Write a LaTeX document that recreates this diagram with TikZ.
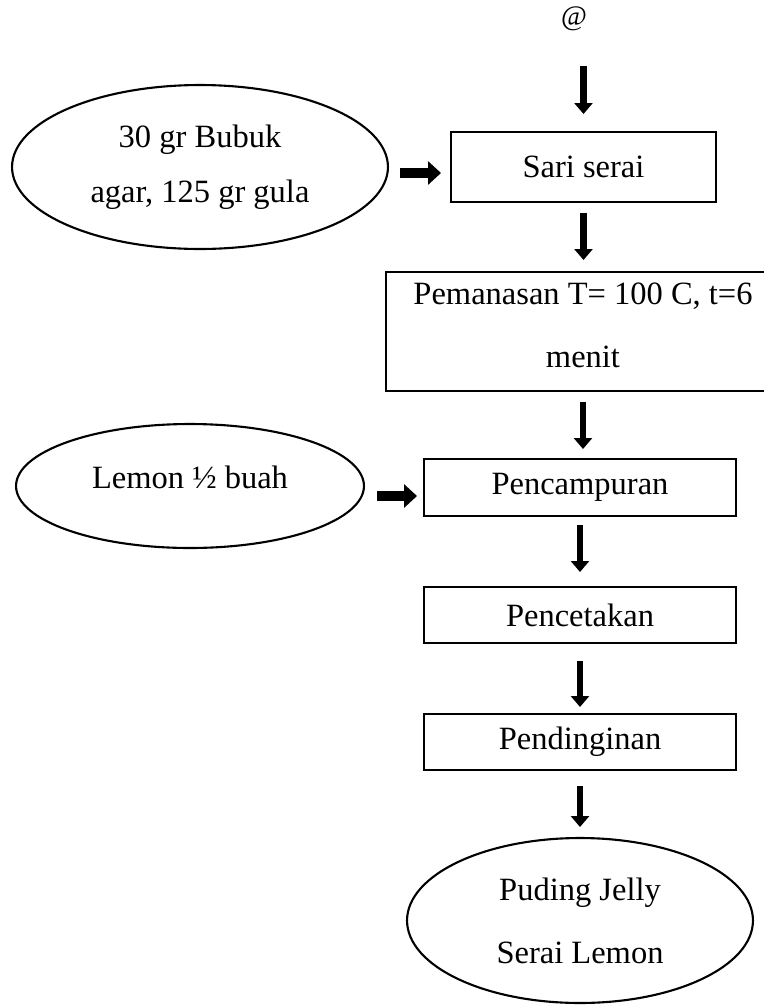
\documentclass[tikz,border=0pt]{standalone}
\usepackage{fontspec}
\setmainfont{Liberation Serif}
\usetikzlibrary{shapes.geometric,arrows.meta}

\begin{document}
\begin{tikzpicture}[x=0.02cm,y=-0.02cm,
    box/.style={draw,line width=1.2pt,rectangle,inner sep=0pt,outer sep=0pt,align=center,font=\fontsize{18.5}{36}\selectfont},
    oval/.style={draw,line width=1.2pt,ellipse,inner sep=0pt,outer sep=0pt,align=center,font=\fontsize{18.5}{36}\selectfont},
    down/.style={line width=0.13cm,-{Triangle[width=0.36cm,length=0.22cm]}},
    side/.style={line width=0.2cm,-{Triangle[width=0.46cm,length=0.26cm]}}]
  \useasboundingbox (0,0) rectangle (764,1005);

  \node[font=\fontsize{16}{18}\selectfont,inner sep=0pt] (at) at (574,19) {@};

  \node[oval,minimum width=7.52cm,minimum height=3.28cm,font=\fontsize{18.5}{31}\selectfont] (bubuk) at (200,167) {30 gr Bubuk\\agar, 125 gr gula};
  \node[box,minimum width=5.3cm,minimum height=1.4cm] (sari) at (583.5,167) {Sari serai};
  \node[box,minimum width=7.88cm,minimum height=2.38cm,text depth=0.26cm] (heat) at (583,331.5) {Pemanasan T= 100 C, t=6\\menit};
  \node[oval,minimum width=6.96cm,minimum height=2.48cm,text depth=0.36cm] (lemon) at (190,486) {Lemon ½ buah};
  \node[box,minimum width=6.24cm,minimum height=1.14cm] (mix) at (580,487.5) {Pencampuran};
  \node[box,minimum width=6.24cm,minimum height=1.12cm] (mould) at (580,615) {Pencetakan};
  \node[box,minimum width=6.24cm,minimum height=1.12cm] (cool) at (580,742) {Pendinginan};
  \node[oval,minimum width=6.92cm,minimum height=3.3cm] (final) at (580,920.5) {Puding Jelly\\Serai Lemon};

  \draw[down,shorten <=0.7cm,shorten >=0.36cm] (sari.north |- at.south) -- (sari.north);
  \foreach \a/\b/\s/\e in {sari/heat/0.22/0.24,heat/mix/0.22/0.2,mix/mould/0.18/0.3,mould/cool/0.36/0.14,cool/final/0.32/0.22}
    \draw[down,shorten <=\s cm,shorten >=\e cm] (\a.south) -- (\a.south |- \b.north);

  \draw[side,shorten <=0.24cm,shorten >=0.2cm] ([yshift=-0.12cm]bubuk.east) -- ([yshift=-0.12cm]bubuk.east -| sari.west);
  \draw[side,shorten <=0.26cm,shorten >=0.14cm] ([yshift=-0.2cm]lemon.east) -- ([yshift=-0.2cm]lemon.east -| mix.west);
\end{tikzpicture}
\end{document}
